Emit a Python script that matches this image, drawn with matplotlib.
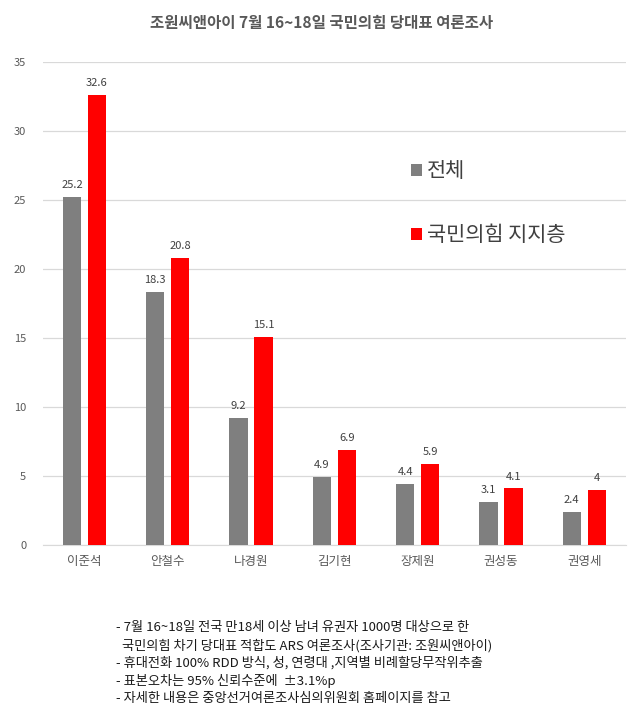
import numpy as np
import matplotlib.pyplot as plt

plt.rcParams['font.family'] = ['Noto Sans CJK KR', 'DejaVu Sans']

# data
candidates = ['이준석', '안철수', '나경원', '김기현', '장제원', '권성동', '권영세']
total = [25.2, 18.3, 9.2, 4.9, 4.4, 3.1, 2.4]
ppp_supporters = [32.6, 20.8, 15.1, 6.9, 5.9, 4.1, 4]
series_names = ['전체', '국민의힘 지지층']

notes = [
    '- 7월 16~18일 전국 만18세 이상 남녀 유권자 1000명 대상으로 한',
    '  국민의힘 차기 당대표 적합도 ARS 여론조사(조사기관: 조원씨앤아이)',
    '- 휴대전화 100% RDD 방식, 성, 연령대 ,지역별 비례할당무작위추출',
    '- 표본오차는 95% 신뢰수준에  ±3.1%p',
    '- 자세한 내용은 중앙선거여론조사심의위원회 홈페이지를 참고',
]

fig = plt.figure(figsize=(6.4, 7.2), dpi=100)
ax = fig.add_axes([0.067, 0.243, 0.911, 0.671])

x = np.arange(len(candidates))
w = 0.22
b1 = ax.bar(x - 0.15, total, w, color='#7f7f7f', label=series_names[0], zorder=3)
b2 = ax.bar(x + 0.15, ppp_supporters, w, color='#ff0000', label=series_names[1], zorder=3)

for bars in (b1, b2):
    for r in bars:
        v = r.get_height()
        ax.annotate('{:g}'.format(v), (r.get_x() + r.get_width() / 2, v),
                    xytext=(0, 5), textcoords='offset points',
                    ha='center', va='bottom', fontsize=8, color='#404040')

ax.set_ylim(0, 35)
ax.set_yticks(np.arange(0, 36, 5))
ax.set_xlim(-0.5, len(candidates) - 0.5)
ax.set_xticks(x)
ax.set_xticklabels(candidates, fontsize=9, color='#595959')
ax.tick_params(axis='y', labelsize=8, labelcolor='#595959', length=0, pad=12)
ax.tick_params(axis='x', length=0, pad=7)
ax.grid(axis='y', color='#d9d9d9', lw=0.9, zorder=0)
for s in ['top', 'right', 'left']:
    ax.spines[s].set_visible(False)
ax.spines['bottom'].set_color('#d9d9d9')

leg = ax.legend(loc='upper left', bbox_to_anchor=(0.6, 0.835), frameon=False,
                fontsize=15, handlelength=0.5, handleheight=0.5,
                handletextpad=0.25, labelspacing=2.0)
for t in leg.get_texts():
    t.set_color('#404040')

fig.text(0.502, 0.968, '조원씨앤아이 7월 16~18일 국민의힘 당대표 여론조사',
         ha='center', va='center', fontsize=11.2, fontweight='bold', color='#595959')

for i, line in enumerate(notes):
    fig.text(0.182, 0.128 - i * 0.0245, line, ha='left', va='center',
             fontsize=9.5, color='#1a1a1a')

fig.savefig('out.png', dpi=100)
